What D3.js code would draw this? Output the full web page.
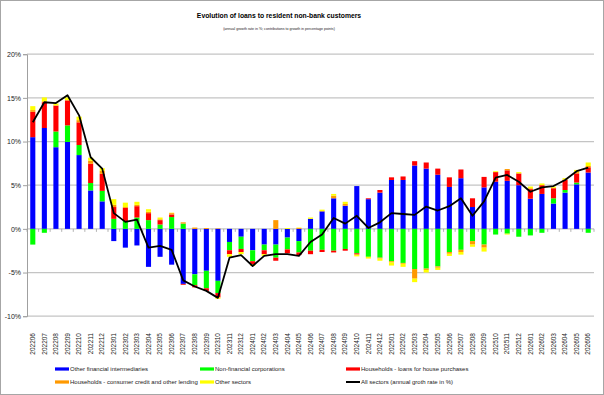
<!DOCTYPE html>
<html>
<head>
<meta charset="utf-8">
<script src="https://cdn.jsdelivr.net/npm/d3@7"></script>
<style>
  body { margin: 0; background: #fff; }
  svg { display: block; font-family: "Liberation Sans", Arial, sans-serif; }
</style>
</head>
<body>
<script>
// months shown on the x axis
const months = [
  "202206", "202207", "202208", "202209", "202210", "202211", "202212",
  "202301", "202302", "202303", "202304", "202305", "202306", "202307", "202308", "202309", "202310", "202311", "202312",
  "202401", "202402", "202403", "202404", "202405", "202406", "202407", "202408", "202409", "202410", "202411", "202412",
  "202501", "202502", "202503", "202504", "202505", "202506", "202507", "202508", "202509", "202510", "202511", "202512",
  "202601", "202602", "202603", "202604", "202605", "202606"
];

// contributions in percentage points
const otherFinancial = [
  10.5, 11.55, 9.35, 9.95, 8.45, 4.4, 3.15,
  -1.4, -2.15, -1.9, -4.35, -3.2, -4.1, -6.3, -5.2, -4.8, -5.95, -1.5, -0.9,
  -2.45, -1.8, -1.8, -1.0, -1.4, 1.15, 2.0, 3.5, 2.65, 4.9, 3.4, 4.15,
  5.6, 5.6, 7.25, 6.9, 6.2, 4.8, 5.8, 2.5, 4.75, 5.4, 5.5, 5.0,
  3.45, 4.0, 2.9, 4.15, 5.1, 6.45
];
const nonFinancial = [
  -1.8, -0.45, 1.8, 1.9, 1.15, 0.85, 1.2,
  1.15, 0.9, 1.3, 1.0, 0.5, 1.35, 0.6, -1.25, -2.0, -1.4, -0.95, -1.4,
  -1.25, -0.65, -1.5, -1.35, -1.3, -2.5, -2.4, -2.5, -2.3, -2.8, -3.2, -3.3,
  -3.7, -3.9, -4.6, -4.55, -4.3, -2.65, -2.4, -1.4, -1.8, -0.65, -0.55, -0.9,
  -0.75, -0.45, 0.6, 0.3, 0.2, -0.45
];
const houseLoans = [
  2.9, 2.95, 2.95, 2.85, 2.6, 2.2, 1.95,
  1.35, 1.5, 1.3, 0.8, 0.5, 0.3, -0.1, -0.25, -0.3, -0.5, -0.45, -0.35,
  -0.35, -0.45, -0.35, -0.45, -0.3, -0.4, -0.25, -0.2, -0.2, -0.1, 0.1, 0.3,
  0.3, 0.4, 0.5, 0.7, 0.7, 1.1, 1.0, 1.0, 1.2, 1.1, 1.2, 1.35,
  1.1, 1.0, 1.15, 1.15, 1.05, 0.6
];
const consumerCredit = [
  0.2, 0.1, 0.05, 0.05, 0.25, 0.35, 0.35,
  0.25, 0.1, 0.15, 0.15, 0.1, 0.15, 0.15, 0.15, 0.1, 0.05, 0, 0,
  0, 0, 1.0, 0, 0.1, 0, 0.05, 0.3, 0.2, -0.1, 0, -0.1,
  -0.15, -0.1, -1.1, -0.15, -0.15, -0.2, -0.25, -0.4, -0.35, 0, 0.15, 0,
  0.1, 0, 0.05, 0.05, 0.15, 0.15
];
const otherSectors = [
  0.45, 0.45, 0.2, 0.3, 0.4, 0.35, 0.3,
  0.65, 0.5, 0.35, 0.3, 0.2, 0.05, 0, 0, 0, -0.15, -0.3, -0.25,
  -0.2, -0.2, 0, 0.1, 0.05, 0.15, 0.15, 0.2, 0.25, -0.15, -0.2, -0.25,
  -0.35, -0.35, -0.4, -0.3, -0.25, -0.25, -0.3, -0.25, -0.45, 0.1, -0.1, 0.15,
  0.2, 0.2, 0.15, 0.15, 0.25, 0.4
];
// annual growth rate, all sectors (%)
const allSectors = [
  12.2, 14.5, 14.4, 15.3, 13.0, 8.2, 6.9,
  1.8, 0.8, 1.05, -2.15, -1.95, -2.4, -5.9, -6.6, -7.1, -7.9, -3.3, -3.0,
  -4.25, -3.1, -2.9, -2.9, -3.1, -1.5, -0.65, 1.25, 0.6, 1.5, 0.1, 0.75,
  1.8, 1.7, 1.6, 2.55, 2.1, 2.6, 3.5, 1.5, 3.15, 5.87, 6.17, 5.4,
  4.25, 4.75, 4.9, 5.6, 6.6, 7.0
];
const yTicks = [-10, -5, 0, 5, 10, 15, 20];

const w = 604;
const h = 395;

const keys = ["ofi", "nfc", "house", "cons", "other"];
const colors = {
  ofi: "#0000ff",
  nfc: "#00ff00",
  house: "#ff0000",
  cons: "#ff9900",
  other: "#ffff00"
};

const rows = months.map((m, i) => ({
  month: m,
  ofi: otherFinancial[i],
  nfc: nonFinancial[i],
  house: houseLoans[i],
  cons: consumerCredit[i],
  other: otherSectors[i],
  total: allSectors[i]
}));

const svg = d3
  .select("body")
  .append("svg")
  .attr("width", w)
  .attr("height", h);

// background and frame
svg.append("rect")
  .attr("x", 0.5).attr("y", 0.5)
  .attr("width", w - 1).attr("height", h - 1)
  .attr("fill", "#fff")
  .attr("stroke", "#a6a6a6");

// titles
svg.append("text")
  .attr("x", 279).attr("y", 18)
  .attr("text-anchor", "middle")
  .attr("font-size", 6.8)
  .attr("font-weight", "bold")
  .text("Evolution of loans to resident non-bank customers");

svg.append("text")
  .attr("x", 279).attr("y", 30)
  .attr("text-anchor", "middle")
  .attr("font-size", 3.6)
  .attr("fill", "#222")
  .text("(annual growth rate in %; contributions to growth in percentage points)");

// scales
const x = d3.scaleBand()
  .domain(months)
  .range([27, 594])
  .paddingInner(0.56)
  .paddingOuter(0.28);

const y = d3.scaleLinear()
  .domain([-10, 20])
  .range([316.2, 54.2]);

// gridlines
svg.append("g")
  .selectAll("line")
  .data(yTicks)
  .enter()
  .append("line")
  .attr("x1", 27).attr("x2", 594)
  .attr("y1", d => y(d)).attr("y2", d => y(d))
  .attr("stroke", "#c4c4c4")
  .attr("stroke-width", 1.3);

// y axis
const yAxis = svg.append("g")
  .attr("transform", "translate(27,0)")
  .call(d3.axisLeft(y).tickValues(yTicks).tickSize(4).tickPadding(2).tickFormat(d => d + "%"));
yAxis.select(".domain").attr("stroke", "#a0a0a0");
yAxis.selectAll(".tick line").attr("stroke", "#a0a0a0");
yAxis.selectAll("text").attr("font-size", 7).attr("fill", "#222").attr("font-family", "Liberation Sans, Arial, sans-serif");

// small ticks on the zero line
const step = x.step();
svg.append("g")
  .selectAll("line")
  .data(d3.range(months.length + 1))
  .enter()
  .append("line")
  .attr("x1", i => 27 + i * step).attr("x2", i => 27 + i * step)
  .attr("y1", y(0)).attr("y2", y(0) + 3)
  .attr("stroke", "#a0a0a0")
  .attr("stroke-width", 0.8);

// stacked bars
const stacked = d3.stack()
  .keys(keys)
  .offset(d3.stackOffsetDiverging)(rows);

svg.append("g")
  .selectAll("g")
  .data(stacked)
  .enter()
  .append("g")
  .attr("fill", d => colors[d.key])
  .selectAll("rect")
  .data(d => d)
  .enter()
  .append("rect")
  .attr("x", d => x(d.data.month))
  .attr("width", x.bandwidth())
  .attr("y", d => y(Math.max(d[0], d[1])))
  .attr("height", d => Math.abs(y(d[0]) - y(d[1])));

// total line
const line = d3.line()
  .x(d => x(d.month) + x.bandwidth() / 2)
  .y(d => y(d.total));

svg.append("path")
  .datum(rows)
  .attr("d", line)
  .attr("fill", "none")
  .attr("stroke", "#000")
  .attr("stroke-width", 1.8)
  .attr("stroke-linejoin", "round");

// x labels, rotated, below the plot
svg.append("g")
  .selectAll("text")
  .data(months)
  .enter()
  .append("text")
  .attr("transform", d => "translate(" + (x(d) + x.bandwidth() / 2) + ",333) rotate(-90)")
  .attr("dy", "0.35em")
  .attr("text-anchor", "end")
  .attr("font-size", 6.5)
  .attr("fill", "#222")
  .text(d => d);

// legend
const legendItems = [
  { label: "Other financial intermediaries", color: colors.ofi, col: 55, row: 369 },
  { label: "Non-financial corporations", color: colors.nfc, col: 200, row: 369 },
  { label: "Households - loans for house purchases", color: colors.house, col: 346, row: 369 },
  { label: "Households - consumer credit and other lending", color: colors.cons, col: 55, row: 382 },
  { label: "Other sectors", color: colors.other, col: 200, row: 382 },
  { label: "All sectors (annual groth rate in %)", color: "#000", col: 346, row: 382, isLine: true }
];

const legend = svg.append("g")
  .selectAll("g")
  .data(legendItems)
  .enter()
  .append("g")
  .attr("transform", d => "translate(" + d.col + "," + d.row + ")");

legend.append("rect")
  .attr("x", 0)
  .attr("y", d => d.isLine ? -1 : -1.6)
  .attr("width", 14)
  .attr("height", d => d.isLine ? 2 : 3.2)
  .attr("fill", d => d.color);

legend.append("text")
  .attr("x", 15)
  .attr("dy", "0.35em")
  .attr("font-size", 6)
  .attr("fill", "#222")
  .text(d => d.label);
</script>
</body>
</html>
